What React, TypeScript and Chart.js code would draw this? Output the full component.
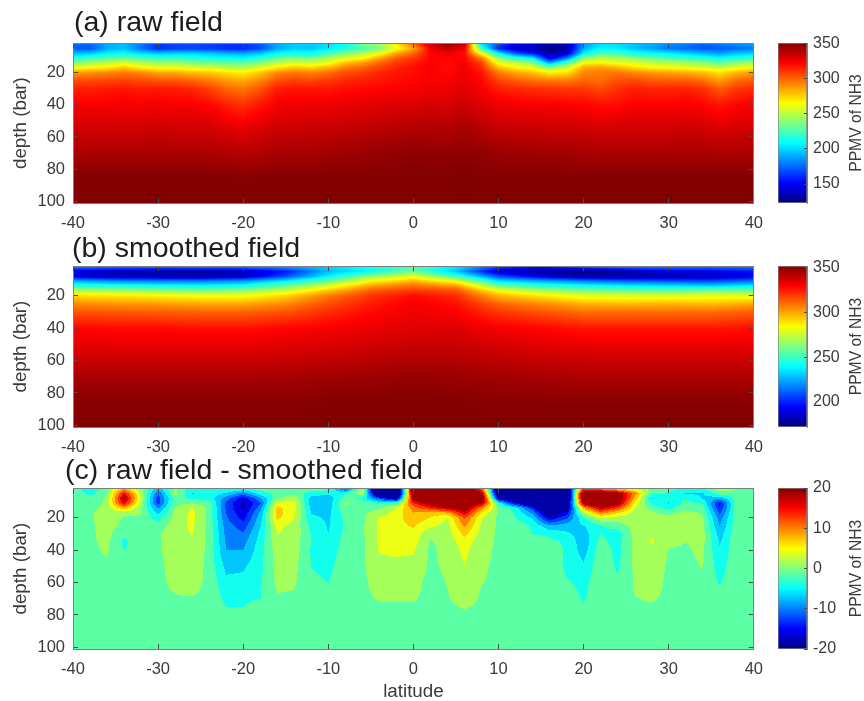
import React, { useEffect, useRef } from "react";
import { Chart, registerables } from "chart.js";

Chart.register(...registerables);

const fieldDepths = [2, 5, 8, 11, 14, 17, 20, 25, 30, 40, 55, 70, 85, 101];
const diffDepths = [1.5, 5, 8, 11, 14, 17, 20, 25, 30, 35, 40, 50, 60, 70, 75, 80, 101];

const rawLats = [-40,-38,-36,-34,-32,-30,-28,-26,-24,-22,-20,-18,-16,-14,-12,-10,-8,-6,-4,-2,0,2,4,6,8,10,12,14,16,18,20,22,24,26,28,30,32,34,36,38,40];
const rawField = [
  [178,172,192,212,238,262,288,305,316,324,333,341,350,351],
  [176,170,195,222,245,267,290,306,316,324,333,341,350,351],
  [190,190,205,228,250,270,292,307,317,324,333,341,350,351],
  [195,195,208,232,258,278,295,308,318,325,333,341,350,351],
  [180,178,200,225,248,268,292,306,316,324,333,341,350,351],
  [165,160,195,220,243,262,285,304,317,325,334,341,350,351],
  [168,165,198,220,243,262,285,303,316,324,333,341,350,351],
  [170,165,198,215,238,258,280,300,314,324,333,341,350,351],
  [168,163,195,212,235,255,278,295,308,322,333,341,350,351],
  [165,160,190,210,232,250,272,288,300,316,330,340,350,351],
  [165,158,188,208,230,248,268,284,296,312,328,339,349,351],
  [172,168,195,215,238,258,278,292,304,318,331,340,350,351],
  [190,190,208,230,250,270,292,305,316,325,334,342,350,351],
  [195,198,212,235,258,278,296,308,318,326,334,342,350,351],
  [198,195,210,232,255,274,293,307,318,326,335,342,350,351],
  [200,205,222,245,262,282,298,310,318,326,335,343,350,351],
  [210,215,235,258,280,295,305,314,320,327,336,344,350,351],
  [235,225,245,265,288,300,308,316,321,328,337,345,350,351],
  [245,235,262,285,300,308,314,318,322,329,338,346,350,351],
  [270,262,285,302,310,315,318,320,323,330,339,347,350,351],
  [300,285,300,310,316,320,320,322,324,330,340,348,350,351],
  [335,325,322,322,323,324,324,324,326,332,340,347,350,351],
  [345,338,326,322,320,320,321,324,326,331,340,347,350,351],
  [340,325,320,322,324,325,326,327,329,334,342,348,351,351],
  [200,222,262,295,308,314,318,322,324,330,339,347,350,351],
  [170,160,205,240,262,280,295,308,316,326,336,345,350,351],
  [150,140,170,218,250,268,285,302,314,325,335,344,350,351],
  [145,135,155,205,240,262,280,298,312,324,335,344,350,351],
  [130,125,130,145,190,240,268,296,311,324,334,343,350,351],
  [135,130,140,178,225,255,272,295,310,323,334,343,350,351],
  [185,190,205,238,265,285,292,300,310,322,333,342,350,351],
  [200,208,225,250,268,288,295,298,306,320,332,341,350,351],
  [200,205,222,245,262,282,296,305,312,320,333,341,350,351],
  [195,195,212,238,258,272,292,306,316,323,333,341,350,351],
  [190,188,208,232,252,268,288,303,314,323,333,341,350,351],
  [185,178,205,225,248,265,286,302,314,323,333,341,350,351],
  [180,175,198,220,245,262,284,302,315,324,334,342,350,351],
  [175,170,192,215,240,258,280,298,312,322,333,341,350,351],
  [180,172,187,208,232,252,272,288,302,318,331,341,350,351],
  [185,175,195,215,240,260,282,298,310,322,332,341,350,351],
  [190,178,198,220,245,265,288,303,314,324,333,341,350,351],
];

const smoothLats = [-40,-35,-30,-25,-20,-15,-10,-5,0,5,10,15,20,25,30,35,40];
const smoothField = [
  [222,188,190,226,248,272,291,305,315,329,336,345,350,352],
  [220,182,182,220,245,268,288,303,314,328,336,345,350,352],
  [220,180,180,218,242,265,286,302,313,328,336,345,350,352],
  [222,178,178,218,240,262,283,300,312,327,336,345,350,352],
  [222,182,185,222,243,265,283,300,312,327,336,345,350,352],
  [226,198,208,238,258,276,292,305,315,329,337,345,350,352],
  [232,228,238,258,278,295,308,316,322,331,338,346,351,352],
  [245,240,265,285,302,314,320,325,328,333,340,347,351,352],
  [255,258,280,298,310,320,328,331,332,335,341,348,351,352],
  [235,230,250,282,303,316,322,327,330,335,341,347,351,352],
  [210,185,208,235,260,284,298,312,320,331,339,346,350,352],
  [200,175,190,225,248,270,288,305,315,329,337,345,350,352],
  [215,172,178,218,242,262,280,298,310,326,336,344,350,352],
  [222,180,178,212,238,260,278,297,310,326,336,344,350,352],
  [220,190,180,210,235,258,278,298,310,326,336,344,350,352],
  [218,192,182,208,232,262,280,296,310,326,336,344,350,352],
  [220,198,190,215,238,260,280,300,313,327,336,344,350,352],
];

const diffLats = rawLats;
const diffField = [
  [-.5,-.5,-.5,-.5,-.5,-.5,-.5,-.5,-.5,-.5,-.5,-.5,-.5,-.5,-.5,-.5,-.5],
  [-6,-4,-1.2,-3.2,-1,-.5,-.5,-.5,-.5,-.5,-.5,-.5,-.5,-.5,-.5,-.5,-.5],
  [-1,-.3,.3,1,1.2,1.6,1.6,1.3,1,.7,.3,-.4,-.5,-.5,-.5,-.5,-.5],
  [7,15,19,16,8,1,-.3,-.7,-2.4,-3.5,-3,-.6,-.5,-.5,-.5,-.5,-.5],
  [-.5,2,2.5,1.5,.6,.2,-.4,-.5,-.5,-.5,-.5,-.5,-.5,-.5,-.5,-.5,-.5],
  [-6,-11,-13,-13,-9,-6.5,-4.5,-1.5,-.3,-.4,-.4,-.6,-.5,-.5,-.5,-.5,-.5],
  [.3,1,-1.2,-.8,.2,.7,1,1.5,1.8,1.7,1.5,1,.5,-.2,-.4,-.5,-.5],
  [-4,-6,-3.5,-.2,3,3.5,3.6,3.4,3,2.6,2.5,2,1.2,-.2,-.4,-.5,-.5],
  [-3,-4,-4,-1.2,-.8,-.8,-.9,-.9,-.9,-.9,-.9,-1,-.8,-.6,-.5,-.5,-.5],
  [-2,-6,-10,-12,-12,-11.5,-11,-10,-9.5,-9,-8.6,-6.5,-5,-3.6,-2.9,-.5,-.5],
  [-2,-10,-16,-18,-18,-16.5,-15.5,-13,-11,-9.5,-8.6,-6.2,-4.8,-3.5,-3,-.5,-.5],
  [-1.5,-4,-9,-12,-10,-8,-7,-6,-5,-4.5,-4,-3.6,-3.2,-2.9,-1,-.5,-.5],
  [-1,-2,-.5,4,6.5,7,6.5,3.5,3,2,1.5,1,.6,-.3,-.5,-.5,-.5],
  [-1,-1,2,4,4,3.5,2.9,2,1.8,1.6,1.4,.8,.3,-.4,-.5,-.5,-.5],
  [-1,-4,-7,-7,-6.5,-6,-5,-3.5,-3,-3,-3.1,-3,-2,-.8,-.5,-.5,-.5],
  [-1,-5,-7.5,-7.5,-7,-6.5,-6.2,-6,-5.7,-5,-4.5,-3.8,-2.9,-.5,-.5,-.5,-.5],
  [-15,-3,-2,.6,-.5,-1.5,-2.2,-2.4,-2.2,-1.8,-1.5,-.9,-.7,-.5,-.5,-.5,-.5],
  [3,2,-3.5,-1.5,-.5,-.5,-.5,-.5,-.5,-.5,-.5,-.5,-.5,-.5,-.5,-.5,-.5],
  [-30,-28,-12,-3.5,-.5,1,3.2,3.5,3.5,3.3,3.1,2,1,.2,-.4,-.5,-.5],
  [-30,-30,-20,-2,2.8,4,4.5,5,4.5,3.8,3.5,2,1,.3,-.4,-.5,-.5],
  [24,24,20,14,10,8.5,7.5,6,5,4,3.2,2,.8,.2,-.3,-.5,-.5],
  [24,24,24,20,14,7,5.7,3.5,.5,-.3,-.5,-.5,-.8,-.6,-.5,-.5,-.5],
  [24,24,24,24,17.5,8,2.8,1.8,1.5,1.2,.9,.5,.1,-.2,-.4,-.5,-.5],
  [24,24,24,24,20,17,12,9,6.5,4.5,3.6,2.8,2,1,.2,-.5,-.5],
  [10,20,24,18,10,5.5,3.2,2.5,1.8,1.2,.8,.4,.1,-.3,-.4,-.5,-.5],
  [-24,-24,-18,-3.5,-.8,-.6,-.5,-.5,-.5,-.5,-.5,-.5,-.5,-.5,-.5,-.5,-.5],
  [-24,-24,-24,-16,-4,-3.2,-2.9,-1,-.5,-.5,-.5,-.5,-.5,-.5,-.5,-.5,-.5],
  [-12,-24,-24,-22,-14,-9,-6,-3.3,-3,-.7,-.5,-.5,-.5,-.5,-.5,-.5,-.5],
  [-24,-26,-28,-28,-26,-22,-17,-8,-3.5,-2,-.7,-.5,-.5,-.5,-.5,-.5,-.5],
  [-24,-26,-26,-24,-20,-16,-12,-7,-5.2,-3.4,-3.4,-3.5,-2.5,-.8,-.5,-.5,-.5],
  [10,24,24,20,8,2,-3.2,-5.8,-7,-7.5,-7,-5.2,-3.9,-3.2,-2.5,-.5,-.5],
  [6,24,24,24,17.5,10,3,-3.2,-2.8,-2,-1.2,-.8,-.6,-.5,-.5,-.5,-.5],
  [3,20,22,20,13,6,2,-1.5,-4.5,-4,-3.8,-3.3,-2.4,-.6,-.5,-.5,-.5],
  [1,10,8,5,3,1.8,1.4,1.2,1,.9,.7,.5,.3,-.1,-.4,-.5,-.5],
  [-.5,-2,-5.9,-3.5,-1,.5,1.2,2,2.7,3.2,2,1.5,1,.3,-.3,-.5,-.5],
  [-1.5,-3.1,-4.5,-6,-4,-.8,.8,1.5,1.5,.6,-.1,-.4,-.5,-.5,-.5,-.5,-.5],
  [-3,-6,-3.2,-2,-.6,.8,3.1,1.8,.6,0,-.3,-.5,-.5,-.5,-.5,-.5,-.5],
  [-3,-6,-6,-3.2,-1.5,-.3,.3,.8,.9,.7,.5,.1,-.5,-.5,-.5,-.5,-.5],
  [2,-1,-8,-15,-14,-12,-10,-8.6,-7,-6,-5.5,-4.2,-3.2,-1,-.6,-.5,-.5],
  [.4,-1,-1.2,-.7,-.8,-.8,-.8,-.8,-.7,-.6,-.6,-.5,-.5,-.5,-.5,-.5,-.5],
  [-.5,-.5,-.5,-.5,-.5,-.5,-.5,-.5,-.5,-.5,-.5,-.5,-.5,-.5,-.5,-.5,-.5],
];

const panelTitles = ["(a) raw field", "(b) smoothed field", "(c) raw field - smoothed field"];
const colorbarTitle = "PPMV of NH3";
const depthTitle = "depth (bar)";
const latitudeTitle = "latitude";
const rawRange = [123, 351];
const smoothRange = [172, 352];
const diffRange = [-20, 20];
const barSteps = [50, 50, 10];
const contourBands = 14;

const FONT = "'Liberation Sans', Arial, Helvetica, sans-serif";
const AXIS = "#7f7f7f";
const TICK = "#4a4a4a";
const TEXT = "#3a3a3a";

const clamp01 = (v: number) => Math.max(0, Math.min(1, v));
const jet = (f: number): [number, number, number] => [
  clamp01(Math.min(4 * f - 1.5, 4.5 - 4 * f)) * 255,
  clamp01(Math.min(4 * f - 0.5, 3.5 - 4 * f)) * 255,
  clamp01(Math.min(4 * f + 0.5, 2.5 - 4 * f)) * 255,
];

function locate(axis: number[], v: number): [number, number] {
  if (v <= axis[0]) return [0, 0];
  if (v >= axis[axis.length - 1]) return [axis.length - 2, 1];
  let i = 0;
  while (axis[i + 1] < v) i++;
  return [i, (v - axis[i]) / (axis[i + 1] - axis[i])];
}

function fieldPlugin(lats: number[], depths: number[], field: number[][], range: number[], bands: number) {
  return {
    id: "fieldRaster",
    beforeDatasetsDraw(chart: any) {
      const { ctx, chartArea: a, scales } = chart;
      const left = Math.round(a.left), top = Math.round(a.top);
      const w = Math.round(a.right) - left, h = Math.round(a.bottom) - top;
      const img = ctx.createImageData(w, h);
      const xs = [];
      for (let i = 0; i < w; i++) xs.push(locate(lats, scales.x.getValueForPixel(left + i + 0.5)));
      for (let j = 0; j < h; j++) {
        const [d, td] = locate(depths, scales.y.getValueForPixel(top + j + 0.5));
        for (let i = 0; i < w; i++) {
          const [c, tc] = xs[i];
          const v =
            (1 - tc) * ((1 - td) * field[c][d] + td * field[c][d + 1]) +
            tc * ((1 - td) * field[c + 1][d] + td * field[c + 1][d + 1]);
          let f = clamp01((v - range[0]) / (range[1] - range[0]));
          if (bands) f = (Math.min(bands - 1, Math.floor(f * bands)) + 0.5) / bands;
          const [r, g, b] = jet(f);
          const o = (j * w + i) * 4;
          img.data[o] = r; img.data[o + 1] = g; img.data[o + 2] = b; img.data[o + 3] = 255;
        }
      }
      ctx.putImageData(img, left, top);
    },
  };
}

function axisStyle(tickLen: number) {
  return {
    grid: { drawOnChartArea: false, drawTicks: true, tickLength: tickLen, color: TICK, lineWidth: 1, z: 1 },
    border: { display: true, color: AXIS, width: 1, z: 1 },
  };
}

function buildPanel(canvas: HTMLCanvasElement, cfg: any) {
  const points: any[] = [];
  cfg.lats.forEach((x: number, i: number) =>
    cfg.depths.forEach((y: number, j: number) => points.push({ x, y, v: cfg.field[i][j] }))
  );
  const yRange = { min: 1.8, max: 101, reverse: true };
  const xRange = { min: -40, max: 40 };
  return new Chart(canvas, {
    type: "scatter",
    data: { datasets: [{ label: cfg.title, data: points, pointRadius: 0, showLine: false }] },
    options: {
      animation: false,
      responsive: false,
      layout: { padding: { left: 0, right: 0, top: 0, bottom: 0 } },
      plugins: {
        legend: { display: false },
        tooltip: { enabled: false },
        title: {
          display: true,
          text: cfg.title,
          align: "start",
          color: "#1c1c1c",
          font: { family: FONT, size: 28.5, weight: "normal", lineHeight: 1.2 },
          padding: { top: cfg.titleTop, bottom: cfg.titleBottom },
        },
      },
      scales: {
        x: {
          type: "linear", position: "bottom", ...xRange, ...axisStyle(-5),
          ticks: { stepSize: 10, includeBounds: false, autoSkip: false, maxRotation: 0, padding: 16, color: TEXT, font: { family: FONT, size: 16.5 }, z: 1 },
          title: cfg.xTitle
            ? { display: true, text: cfg.xTitle, color: TEXT, font: { family: FONT, size: 18.8, lineHeight: 1 }, padding: 0 }
            : { display: false },
          afterFit: (s: any) => { s.height = cfg.xHeight; },
        },
        y: {
          type: "linear", position: "left", ...yRange, ...axisStyle(-5),
          ticks: { stepSize: 20, includeBounds: false, autoSkip: false, padding: 13, color: TEXT, font: { family: FONT, size: 16.5 }, z: 1 },
          title: { display: true, text: depthTitle, color: TEXT, font: { family: FONT, size: 18.8, lineHeight: 1.2 }, padding: { top: 10, bottom: 0 } },
          afterFit: (s: any) => { s.width = 73; },
        },
        xTop: {
          axis: "x", type: "linear", position: "top", ...xRange, ...axisStyle(-5),
          ticks: { display: false, stepSize: 10, includeBounds: false, z: 1 },
          afterFit: (s: any) => { s.height = 0; },
        },
        yRight: {
          axis: "y", type: "linear", position: "right", ...yRange, ...axisStyle(-5),
          ticks: { display: false, stepSize: 20, includeBounds: false, z: 1 },
          afterFit: (s: any) => { s.width = 0; },
        },
      },
    } as any,
    plugins: [
      fieldPlugin(cfg.lats, cfg.depths, cfg.field, cfg.range, cfg.bands),
      { id: "titleOffset", afterLayout(chart: any) { if (chart.titleBlock) { chart.titleBlock.left = cfg.titleLeft; chart.titleBlock.right = 770; } } },
    ],
  });
}

function buildColorbar(canvas: HTMLCanvasElement, cfg: any) {
  return new Chart(canvas, {
    type: "bar",
    data: {
      labels: ["scale"],
      datasets: [{
        label: colorbarTitle,
        data: [[cfg.range[0], cfg.range[1]]],
        barPercentage: 1,
        categoryPercentage: 1,
        borderWidth: 1,
        borderSkipped: false,
        borderColor: AXIS,
        backgroundColor: (c: any) => {
          const { chart } = c;
          if (!chart.chartArea) return "#000";
          const g = chart.ctx.createLinearGradient(0, chart.chartArea.bottom, 0, chart.chartArea.top);
          [0, 0.125, 0.375, 0.625, 0.875, 1].forEach((f) => {
            const [r, gg, b] = jet(f);
            g.addColorStop(f, `rgb(${r},${gg},${b})`);
          });
          return g;
        },
      }],
    },
    options: {
      animation: false,
      responsive: false,
      layout: { padding: { left: 8, top: cfg.plotTop, bottom: cfg.plotBottom, right: 0 } },
      plugins: { legend: { display: false }, tooltip: { enabled: false }, title: { display: false } },
      scales: {
        x: { display: false },
        y: {
          type: "linear", position: "right", min: cfg.range[0], max: cfg.range[1], ...axisStyle(-3),
          ticks: { stepSize: cfg.step, includeBounds: false, autoSkip: false, padding: 9, color: TEXT, font: { family: FONT, size: 16 }, z: 1 },
          afterFit: (s: any) => { s.width = 57; },
        },
      },
    } as any,
    plugins: [{
      id: "barTitle",
      afterDraw(chart: any) {
        const { ctx, chartArea: a } = chart;
        ctx.save();
        ctx.translate(87, (a.top + a.bottom) / 2);
        ctx.rotate(-Math.PI / 2);
        ctx.textAlign = "center";
        ctx.textBaseline = "middle";
        ctx.font = `15.7px ${FONT}`;
        ctx.fillStyle = TEXT;
        ctx.fillText(colorbarTitle, 0, 0);
        ctx.restore();
      },
    }],
  });
}

const panels = [
  { title: panelTitles[0], lats: rawLats, depths: fieldDepths, field: rawField, range: rawRange, bands: 0, step: barSteps[0], top: 0, height: 238, plotTop: 43, xHeight: 35, titleLeft: 74, titleTop: 6, titleBottom: 3 },
  { title: panelTitles[1], lats: smoothLats, depths: fieldDepths, field: smoothField, range: smoothRange, bands: 0, step: barSteps[1], top: 226, height: 236, plotTop: 40, xHeight: 35, titleLeft: 72, titleTop: 6, titleBottom: 0 },
  { title: panelTitles[2], lats: diffLats, depths: diffDepths, field: diffField, range: diffRange, bands: contourBands, step: barSteps[2], top: 449, height: 252, plotTop: 39, xHeight: 52, xTitle: latitudeTitle, titleLeft: 65, titleTop: 5, titleBottom: 0 },
];

export default function App() {
  const refs = useRef<(HTMLCanvasElement | null)[]>([]);
  useEffect(() => {
    const charts: Chart[] = [];
    panels.forEach((p, i) => {
      charts.push(buildPanel(refs.current[i * 2]!, p));
      charts.push(buildColorbar(refs.current[i * 2 + 1]!, { range: p.range, step: p.step, plotTop: p.plotTop, plotBottom: p.xHeight }));
    });
    return () => charts.forEach((c) => c.destroy());
  }, []);
  return (
    <div style={{ position: "fixed", left: 0, top: 0, width: 864, height: 701, overflow: "hidden", background: "#fff", filter: "blur(0.45px)" }}>
      {panels.map((p, i) => (
        <React.Fragment key={p.title}>
          <canvas
            ref={(el) => { refs.current[i * 2] = el; }}
            width={779}
            height={p.height}
            style={{ position: "absolute", left: 0, top: p.top, width: 779, height: p.height }}
          />
          <canvas
            ref={(el) => { refs.current[i * 2 + 1] = el; }}
            width={94}
            height={p.height}
            style={{ position: "absolute", left: 770, top: p.top, width: 94, height: p.height }}
          />
        </React.Fragment>
      ))}
    </div>
  );
}
